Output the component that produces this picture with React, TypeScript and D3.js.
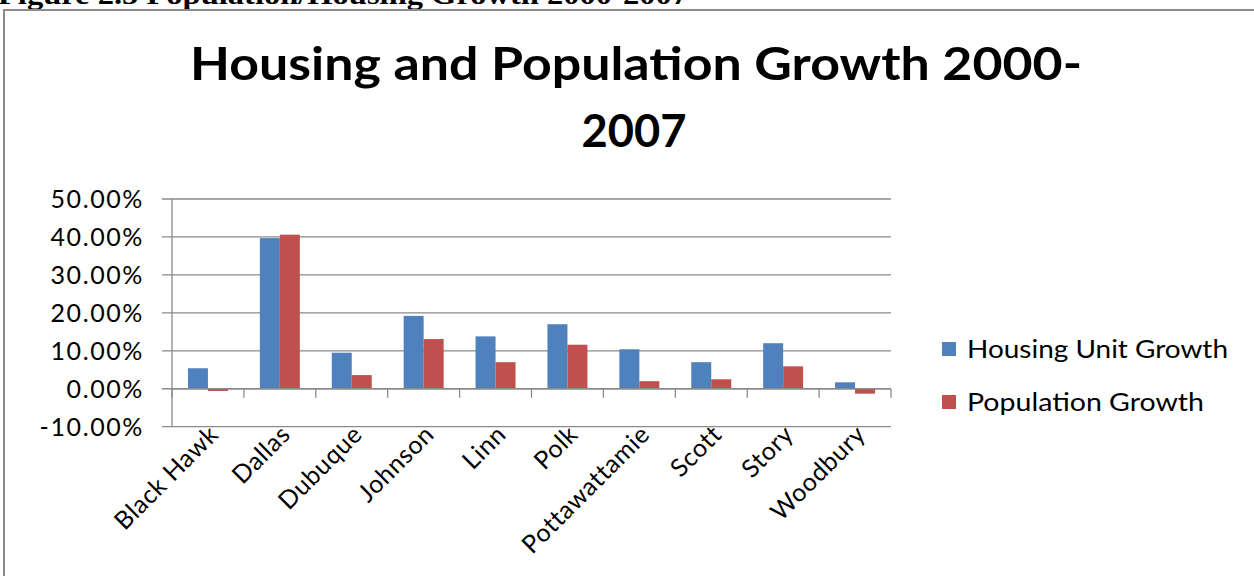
import React from "react";
import * as d3 from "d3";

const categories = ["Black Hawk", "Dallas", "Dubuque", "Johnson", "Linn", "Polk", "Pottawattamie", "Scott", "Story", "Woodbury"];
const seriesNames = ["Housing Unit Growth", "Population Growth"];
const housingGrowth = [0.054, 0.397, 0.095, 0.192, 0.138, 0.170, 0.104, 0.070, 0.120, 0.017];
const populationGrowth = [-0.006, 0.406, 0.036, 0.131, 0.070, 0.116, 0.020, 0.025, 0.059, -0.013];
const yTicks = [-0.1, 0, 0.1, 0.2, 0.3, 0.4, 0.5];
const colors = ["#4F81BD", "#C0504D"];
const titleLines = ["Housing and Population Growth 2000-", "2007"];
const headerText = "Figure 2.5 Population/Housing Growth 2000-2007";

const W = 1254;
const H = 576;
const plotLeft = 172;
const plotRight = 891;
const plotTop = 199;
const plotBottom = 426.7;
const font = "Lato, 'Open Sans', sans-serif";

export default function App() {
  const y = d3.scaleLinear().domain([-0.1, 0.5]).range([plotBottom, plotTop]);
  const x = d3.scaleBand<string>().domain(categories).range([plotLeft, plotRight]).paddingInner(0).paddingOuter(0);
  const bw = x.bandwidth();
  const xs = d3.scaleBand<string>().domain(seriesNames).range([bw * 0.222, bw * 0.778]).padding(0);
  const seriesValues = [housingGrowth, populationGrowth];
  const fmt = (t: number) => d3.format(".2%")(t).replace("\u2212", "-");
  const y0 = y(0);
  const boundaries = d3.range(categories.length + 1).map((i) => plotLeft + i * bw);

  return (
    <svg width={W} height={H} style={{ position: "absolute", left: 0, top: 0, background: "#fff" }}>
      <rect x={0} y={0} width={W} height={H} fill="#fff" />
      {/* header text cut off at top */}
      <text x={-2} y={4} fontFamily="'Liberation Serif', 'Times New Roman', serif" fontWeight="bold" fontSize={27}
        textLength={690} lengthAdjust="spacingAndGlyphs" fill="#000">{headerText}</text>
      {/* outer border */}
      <rect x={4} y={10} width={W + 10} height={H + 10} fill="none" stroke="#8c8c8c" strokeWidth={2} />
      {/* title */}
      <text x={636} y={80} textAnchor="middle" fontFamily={font} fontWeight="bold" fontSize={45}
        textLength={892} lengthAdjust="spacingAndGlyphs" fill="#000">{titleLines[0]}</text>
      <text x={634} y={147} textAnchor="middle" fontFamily={font} fontWeight="bold" fontSize={45}
        textLength={105} lengthAdjust="spacingAndGlyphs" fill="#000">{titleLines[1]}</text>

      {/* gridlines */}
      {yTicks.map((t) => (
        <g key={t}>
          <line x1={plotLeft - 10} x2={plotRight} y1={y(t)} y2={y(t)} stroke="#8a8a8a" strokeWidth={1.3} />
          <text x={144} y={y(t) + 9} textAnchor="end" fontFamily={font} fontSize={25} letterSpacing={1.6} fill="#000">{fmt(t)}</text>
        </g>
      ))}
      {/* y axis */}
      <line x1={plotLeft} x2={plotLeft} y1={plotTop} y2={plotBottom} stroke="#8a8a8a" strokeWidth={1.3} />
      {/* bars */}
      {categories.map((c, i) => (
        <g key={c} transform={`translate(${x(c)},0)`}>
          {seriesNames.map((s, j) => {
            const v = seriesValues[j][i];
            return (
              <rect key={s} x={xs(s)} width={xs.bandwidth()} y={Math.min(y(v), y0)} height={Math.abs(y(v) - y0)}
                fill={colors[j]} />
            );
          })}
        </g>
      ))}
      {/* category axis at zero */}
      <line x1={plotLeft} x2={plotRight} y1={y0} y2={y0} stroke="#8a8a8a" strokeWidth={1.3} />
      {boundaries.map((bx, i) => (
        <line key={i} x1={bx} x2={bx} y1={y0} y2={y0 + 9} stroke="#8a8a8a" strokeWidth={1.3} />
      ))}
      {/* category labels */}
      {categories.map((c) => {
        const cx = (x(c) as number) + bw / 2 + 12;
        const cy = 436;
        return (
          <text key={c} x={cx} y={cy} transform={`rotate(-45, ${cx}, ${cy})`} textAnchor="end" fontFamily={font}
            fontSize={25} letterSpacing={0.6} fill="#000">{c}</text>
        );
      })}
      {/* legend */}
      {seriesNames.map((s, j) => (
        <g key={s}>
          <rect x={942} y={342 + j * 53} width={14} height={14} fill={colors[j]} />
          <text x={967} y={358 + j * 53} fontFamily={font} fontSize={25} fill="#000"
            textLength={j === 0 ? 261 : 237} lengthAdjust="spacingAndGlyphs">{s}</text>
        </g>
      ))}
    </svg>
  );
}
